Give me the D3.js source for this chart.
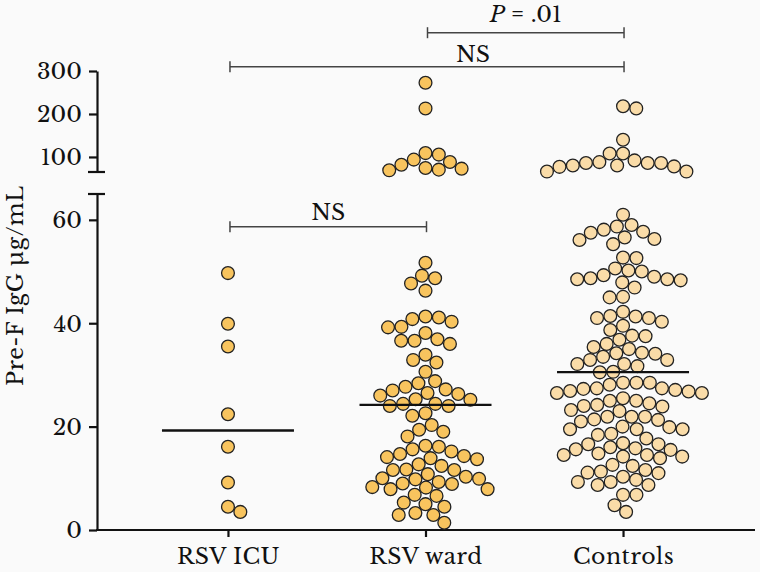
<!DOCTYPE html>
<html>
<head>
<meta charset="utf-8">
<script src="https://cdn.jsdelivr.net/npm/d3@7"></script>
<style>
  html, body { margin: 0; padding: 0; background: #fafafa; }
  svg { display: block; }
</style>
</head>
<body>
<svg id="chart" width="760" height="572"></svg>
<script>
// ---------------- data ----------------
const categories = ["RSV ICU", "RSV ward", "Controls"];

const icuValues = [49.7, 39.9, 35.5, 22.4, 16.1, 9.2, 4.5, 3.5];

const wardValues = [
  272.7, 212.9, 109, 105.5, 93.8, 88.2, 82, 74.3, 72.8, 70.5, 68.9,
  51.7, 49.2, 48.7, 47.7, 46.3,
  41.3, 41.1, 40.8, 40.3, 39.3, 39.2, 38.1, 36.9, 36.6, 36.6, 36, 33.9, 32.9, 32.4, 30.6,
  28.8, 28.4, 27.7, 27.2, 27, 26.5, 26.3, 26, 25.3, 25.2, 24.4, 24.4, 24, 24,
  22.6, 22.1, 20.3, 19.4, 19, 18.1,
  16.3, 16.1, 15.6, 15.2, 14.7, 14.3, 14.1, 13.9, 13.7, 12.7,
  12.4, 11.7, 11.6, 11.6, 10.8, 10.3, 10, 9.9, 9.8, 9.3, 9, 8.9, 8.3, 8.2, 7.9, 7.9, 6.8, 6.6,
  5.3, 5, 4.5, 3.3, 2.9, 2.9, 1.4
];

const controlValues = [
  218, 213, 140, 108, 108, 92, 88, 86, 86, 86, 80, 80, 78, 77, 66, 66,
  61, 59, 58.7, 58.1, 57.7, 57.5, 56.6, 56.3, 56.1, 55.3,
  52.7, 52.6, 50.6, 50.2, 50, 49.3, 49, 48.7, 48.5, 48.5, 48.3, 47.9, 46.9, 45.1, 45,
  42.2, 41.4, 41.3, 41, 41, 40.3, 39.5, 38.7, 37.6, 37.5, 36.8, 36, 35.4, 35, 34.3, 34.2, 34.1,
  33.5, 32.9, 32.9, 32.1, 32.1, 31.7, 30.6, 30.5,
  28.5, 28.5, 28.5, 28.1, 27.4, 27.4, 27.3, 27.1, 26.9, 26.8, 26.5, 26.5, 25.5, 25, 25,
  24.5, 24.2, 24, 23.9, 23.2, 23, 21.9, 21.9, 21.9, 21.4, 21.3, 21, 20, 19.9, 19.5, 19.5, 19.5, 18.6, 18.4,
  17.7, 16.8, 16.6, 16.6, 16, 15.8, 15.6, 15.5, 14.8, 14.5, 14.5, 14.2, 14.2, 13.9,
  12.6, 12.4, 11.6, 11.3, 11.1, 11, 10.3, 9.7, 9.3, 9.3, 8.7, 8.7, 6.8, 6.8, 4.8, 3.5
];

const groupValues = [icuValues, wardValues, controlValues];
const groupFills = ["#f8c45e", "#f8c45e", "#fadca8"];

const lowerTicks = [0, 20, 40, 60];
const upperTicks = [100, 200, 300];
const lowerDomain = [0, 65];
const upperDomain = [65, 300];

// comparisons between groups
const comparisons = [
  { a: "RSV ward", b: "Controls", label: "P", rest: " = .01", level: "top" },
  { a: "RSV ICU", b: "Controls", label: "NS", rest: "", level: "mid" },
  { a: "RSV ICU", b: "RSV ward", label: "NS", rest: "", level: "low" }
];

// ---------------- layout ----------------
const FONT = "'Libre Baskerville', 'Liberation Serif', serif";
const FS = 22;
const svg = d3.select("#chart");
const axisX = 97;
const xRight = 755;

const x = d3.scalePoint().domain(categories).range([axisX, 754]).padding(0.663);
const yLow = d3.scaleLinear().domain(lowerDomain).range([530, 194]);
const yUp = d3.scaleLinear().domain(upperDomain).range([172, 71]);
const yOf = v => (v > lowerDomain[1] ? yUp(v) : yLow(v));

const R = 6.4;
const D = 13.4;

// beeswarm placement
function swarm(values, cx) {
  const pts = values.map(v => ({ v, y: yOf(v) }))
    .sort((p, q) => p.y - q.y);
  const placed = [];
  pts.forEach((p, idx) => {
    const blocks = [];
    placed.forEach(q => {
      const dy = Math.abs(q.y - p.y);
      if (dy < D) {
        const dx = Math.sqrt(D * D - dy * dy);
        blocks.push([q.dx - dx, q.dx + dx]);
      }
    });
    const cands = [0];
    blocks.forEach(b => { cands.push(b[0], b[1]); });
    const ok = c => blocks.every(b => c <= b[0] + 1e-6 || c >= b[1] - 1e-6);
    let best = null;
    cands.filter(ok).forEach(c => {
      if (best === null || Math.abs(c) < Math.abs(best) - 1e-6 ||
          (Math.abs(Math.abs(c) - Math.abs(best)) < 1e-6 && (idx % 2 ? c > best : c < best))) best = c;
    });
    p.dx = best;
    placed.push(p);
  });
  return pts.map(p => ({ v: p.v, x: cx + p.dx, y: p.y }));
}

// ---------------- axes ----------------
const axisG = svg.append("g").attr("stroke", "#111").attr("stroke-width", 2.2).attr("fill", "none");

const lowAxis = svg.append("g").attr("transform", `translate(${axisX},0)`)
  .call(d3.axisLeft(yLow).tickValues(lowerTicks).tickSize(8).tickPadding(7).tickSizeOuter(0));
const upAxis = svg.append("g").attr("transform", `translate(${axisX},0)`)
  .call(d3.axisLeft(yUp).tickValues(upperTicks).tickSize(8).tickPadding(7).tickSizeOuter(0));

[lowAxis, upAxis].forEach(g => {
  g.attr("font-family", null).attr("font-size", null);
  g.select(".domain").attr("stroke", "#111").attr("stroke-width", 2.2);
  g.selectAll(".tick line").attr("stroke", "#111").attr("stroke-width", 2.2);
  g.selectAll(".tick text").attr("font-family", FONT).attr("font-size", FS).attr("fill", "#111")
    .attr("dy", "0.36em");
});

// break caps
axisG.append("line").attr("x1", axisX - 9).attr("x2", axisX + 8)
  .attr("y1", yUp(upperDomain[0])).attr("y2", yUp(upperDomain[0]));
axisG.append("line").attr("x1", axisX - 9).attr("x2", axisX + 8)
  .attr("y1", yLow(lowerDomain[1])).attr("y2", yLow(lowerDomain[1]));

// x-axis
const xAxis = svg.append("g").attr("transform", `translate(0,${yLow(0)})`)
  .call(d3.axisBottom(x).tickSize(7).tickPadding(11).tickSizeOuter(0));
xAxis.attr("font-family", null).attr("font-size", null);
xAxis.select(".domain").remove();
xAxis.append("line").attr("x1", axisX - 1).attr("x2", xRight).attr("y1", 0).attr("y2", 0)
  .attr("stroke", "#111").attr("stroke-width", 2.2);
xAxis.selectAll(".tick line").attr("stroke", "#111").attr("stroke-width", 2.2);
xAxis.selectAll(".tick text").attr("font-family", FONT).attr("font-size", FS).attr("fill", "#111")
  .attr("letter-spacing", "0.5px");

// y label
svg.append("text")
  .attr("transform", `translate(23,286) rotate(-90)`)
  .attr("text-anchor", "middle")
  .attr("font-family", FONT)
  .attr("font-size", FS)
  .attr("fill", "#111")
  .attr("textLength", 200)
  .attr("lengthAdjust", "spacing")
  .text("Pre-F IgG µg/mL");

// ---------------- points ----------------
groupValues.forEach((vals, i) => {
  const cat = categories[i];
  const cx = x(cat);
  const pts = swarm(vals, cx);
  const g = svg.append("g");
  g.selectAll("circle").data(pts).join("circle")
    .attr("cx", d => d.x).attr("cy", d => d.y).attr("r", R)
    .attr("fill", groupFills[i]).attr("stroke", "#222").attr("stroke-width", 1.3);
  const med = d3.median(vals);
  svg.append("line")
    .attr("x1", cx - 66).attr("x2", cx + 66)
    .attr("y1", yOf(med)).attr("y2", yOf(med))
    .attr("stroke", "#111").attr("stroke-width", 2.4);
});

// ---------------- comparison brackets ----------------
const levelY = { top: 32.7, mid: 66.7, low: 226.7 };
const labelGap = { top: 11, mid: 5, low: 7 };
comparisons.forEach(c => {
  const x1 = x(c.a) + 2, x2 = x(c.b) + 1;
  const y = levelY[c.level];
  const g = svg.append("g").attr("stroke", "#444").attr("stroke-width", 1.5);
  g.append("line").attr("x1", x1).attr("x2", x2).attr("y1", y).attr("y2", y);
  g.append("line").attr("x1", x1).attr("x2", x1).attr("y1", y - 5.5).attr("y2", y + 5.5);
  g.append("line").attr("x1", x2).attr("x2", x2).attr("y1", y - 5.5).attr("y2", y + 5.5);
  const t = svg.append("text")
    .attr("x", c.level === "mid" ? x(c.b) - 150 : (x1 + x2) / 2)
    .attr("y", y - labelGap[c.level])
    .attr("text-anchor", "middle")
    .attr("font-family", FONT)
    .attr("font-size", FS)
    .attr("fill", "#111");
  if (c.rest) {
    t.append("tspan").attr("font-style", "italic").text(c.label);
    t.append("tspan").text(c.rest);
  } else {
    t.text(c.label);
  }
});
</script>
</body>
</html>
